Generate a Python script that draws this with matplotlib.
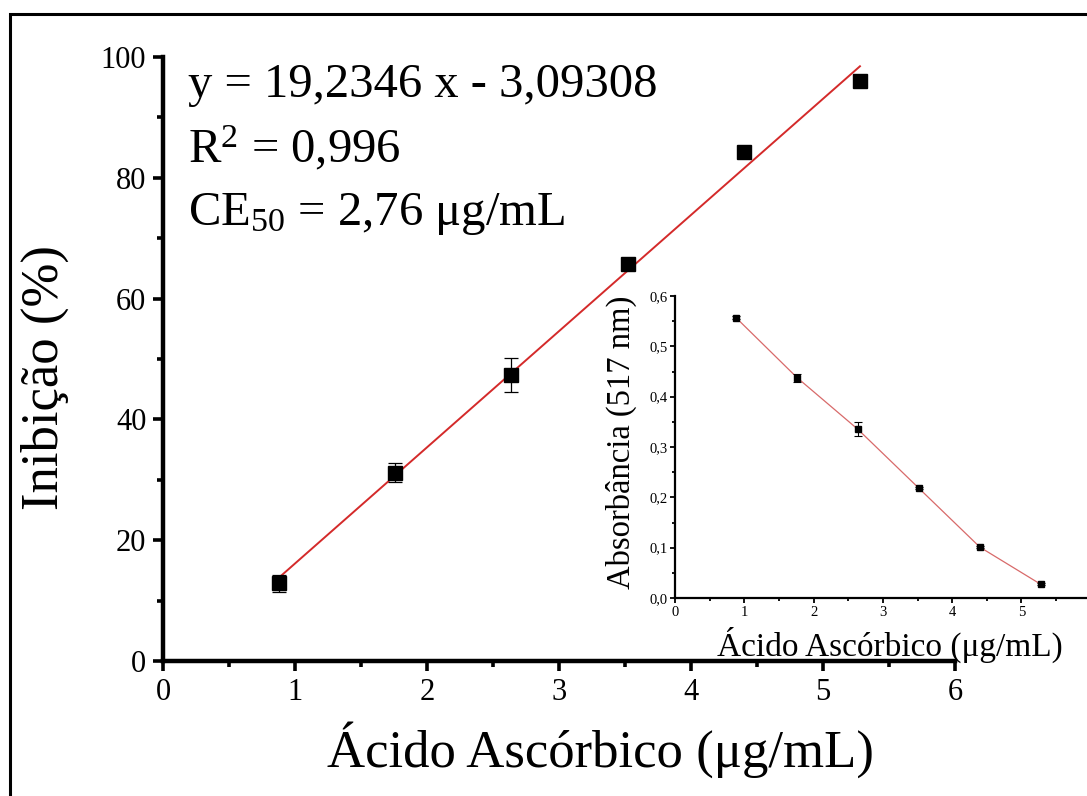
import matplotlib
matplotlib.use("Agg")
import matplotlib.pyplot as plt
from matplotlib.patches import Rectangle
from matplotlib.ticker import MultipleLocator, FixedLocator
import numpy as np

plt.rcParams['font.family'] = ['Liberation Serif', 'DejaVu Serif']
plt.rcParams['mathtext.fontset'] = 'custom'
plt.rcParams['mathtext.rm'] = 'Liberation Serif'
plt.rcParams['mathtext.it'] = 'Liberation Serif:italic'

# Ascorbic acid concentrations (ug/mL)
conc = [0.88, 1.76, 2.64, 3.52, 4.40, 5.28]
# DPPH inhibition (%) and its standard deviation
inhibition = [12.9, 31.2, 47.4, 65.7, 84.2, 96.0]
inhibition_err = [1.4, 1.5, 2.8, 0.5, 0.5, 0.5]
# Absorbance at 517 nm and its standard deviation
absorbance = [0.557, 0.438, 0.335, 0.218, 0.101, 0.027]
absorbance_err = [0.003, 0.008, 0.014, 0.002, 0.002, 0.002]

slope, intercept = 19.2346, -3.09308
fit_x = np.array([conc[0], conc[-1]])
fit_y = slope * fit_x + intercept

W, H = 1087, 796
fig = plt.figure(figsize=(W / 100, H / 100), dpi=100)

# outer frame
fig.patches.append(Rectangle((10 / W, -0.02), 1.05, (H - 14) / H + 0.02,
                             transform=fig.transFigure, fill=False,
                             edgecolor='black', linewidth=2.2, clip_on=False))

AX_W, AX_H = 955 - 163, 661 - 57
ax = fig.add_axes([163 / W, (H - 661) / H, AX_W / W, AX_H / H])
ax.plot(fit_x, fit_y, color='#d42a2a', linewidth=1.4, zorder=2)
ax.errorbar(conc, inhibition, yerr=inhibition_err, fmt='s', color='black',
            markersize=10, elinewidth=0.9, capsize=5, capthick=0.9, zorder=3)
ax.set_xlim(0, 6)
ax.set_ylim(0, 100)
ax.xaxis.set_major_locator(MultipleLocator(1))
ax.xaxis.set_minor_locator(MultipleLocator(0.5))
ax.yaxis.set_major_locator(MultipleLocator(20))
ax.yaxis.set_minor_locator(MultipleLocator(10))
for s in ['top', 'right']:
    ax.spines[s].set_visible(False)
for s in ['left', 'bottom']:
    ax.spines[s].set_linewidth(3.2)
ax.tick_params(which='major', direction='out', length=7, width=2.6,
               labelsize=22, pad=5)
ax.tick_params(which='minor', direction='out', length=4, width=2.6)
ax.text((601 - 163) / AX_W, -(750 - 661) / AX_H, 'Ácido Ascórbico (μg/mL)',
        transform=ax.transAxes, fontsize=38, ha='center', va='center')
ax.text(-(163 - 45) / AX_W, (661 - 378) / AX_H, 'Inibição (%)',
        transform=ax.transAxes, fontsize=38, ha='center', va='center',
        rotation=90)

txt_kw = dict(transform=ax.transAxes, fontsize=35, ha='left', va='baseline')
ax.text((188 - 163) / AX_W, (661 - 97) / AX_H, 'y = 19,2346 x - 3,09308', **txt_kw)
ax.text((188 - 163) / AX_W, (661 - 162) / AX_H, r'R$^{2}$ = 0,996', **txt_kw)
ax.text((188 - 163) / AX_W, (661 - 225) / AX_H, r'CE$_{50}$ = 2,76 μg/mL', **txt_kw)

# inset: absorbance
IN_W, IN_H = 6 * 69.3, 598 - 296
ins = fig.add_axes([675 / W, (H - 598) / H, IN_W / W, IN_H / H])
ins.patch.set_alpha(0)
ins.plot(conc, absorbance, color='#d86a6a', linewidth=0.9, zorder=2)
ins.errorbar(conc, absorbance, yerr=absorbance_err, fmt='s', color='black',
             markersize=5, elinewidth=0.8, capsize=3, capthick=0.8, zorder=3)
ins.set_xlim(0, 6)
ins.set_ylim(0, 0.6)
ins.xaxis.set_major_locator(FixedLocator([0, 1, 2, 3, 4, 5]))
ins.xaxis.set_minor_locator(FixedLocator([0.5, 1.5, 2.5, 3.5, 4.5, 5.5]))
ins.yaxis.set_major_locator(MultipleLocator(0.1))
ins.yaxis.set_minor_locator(MultipleLocator(0.05))
ins.yaxis.set_major_formatter(lambda v, p: f'{v:.1f}'.replace('.', ','))
ins.xaxis.set_major_formatter(lambda v, p: f'{v:.0f}')
for s in ['top', 'right']:
    ins.spines[s].set_visible(False)
for s in ['left', 'bottom']:
    ins.spines[s].set_linewidth(1.6)
ins.tick_params(which='major', direction='out', length=3.5, width=1.3,
                labelsize=10.5, pad=2)
ins.tick_params(which='minor', direction='out', length=2, width=1.3)
ins.text((890 - 675) / IN_W, -(645 - 598) / IN_H, 'Ácido Ascórbico (μg/mL)',
         transform=ins.transAxes, fontsize=24, ha='center', va='center')
ins.text(-(675 - 621) / IN_W, (598 - 442) / IN_H, 'Absorbância (517 nm)',
         transform=ins.transAxes, fontsize=23.5, ha='center', va='center',
         rotation=90)

fig.savefig('out.png', dpi=100, facecolor='white')
